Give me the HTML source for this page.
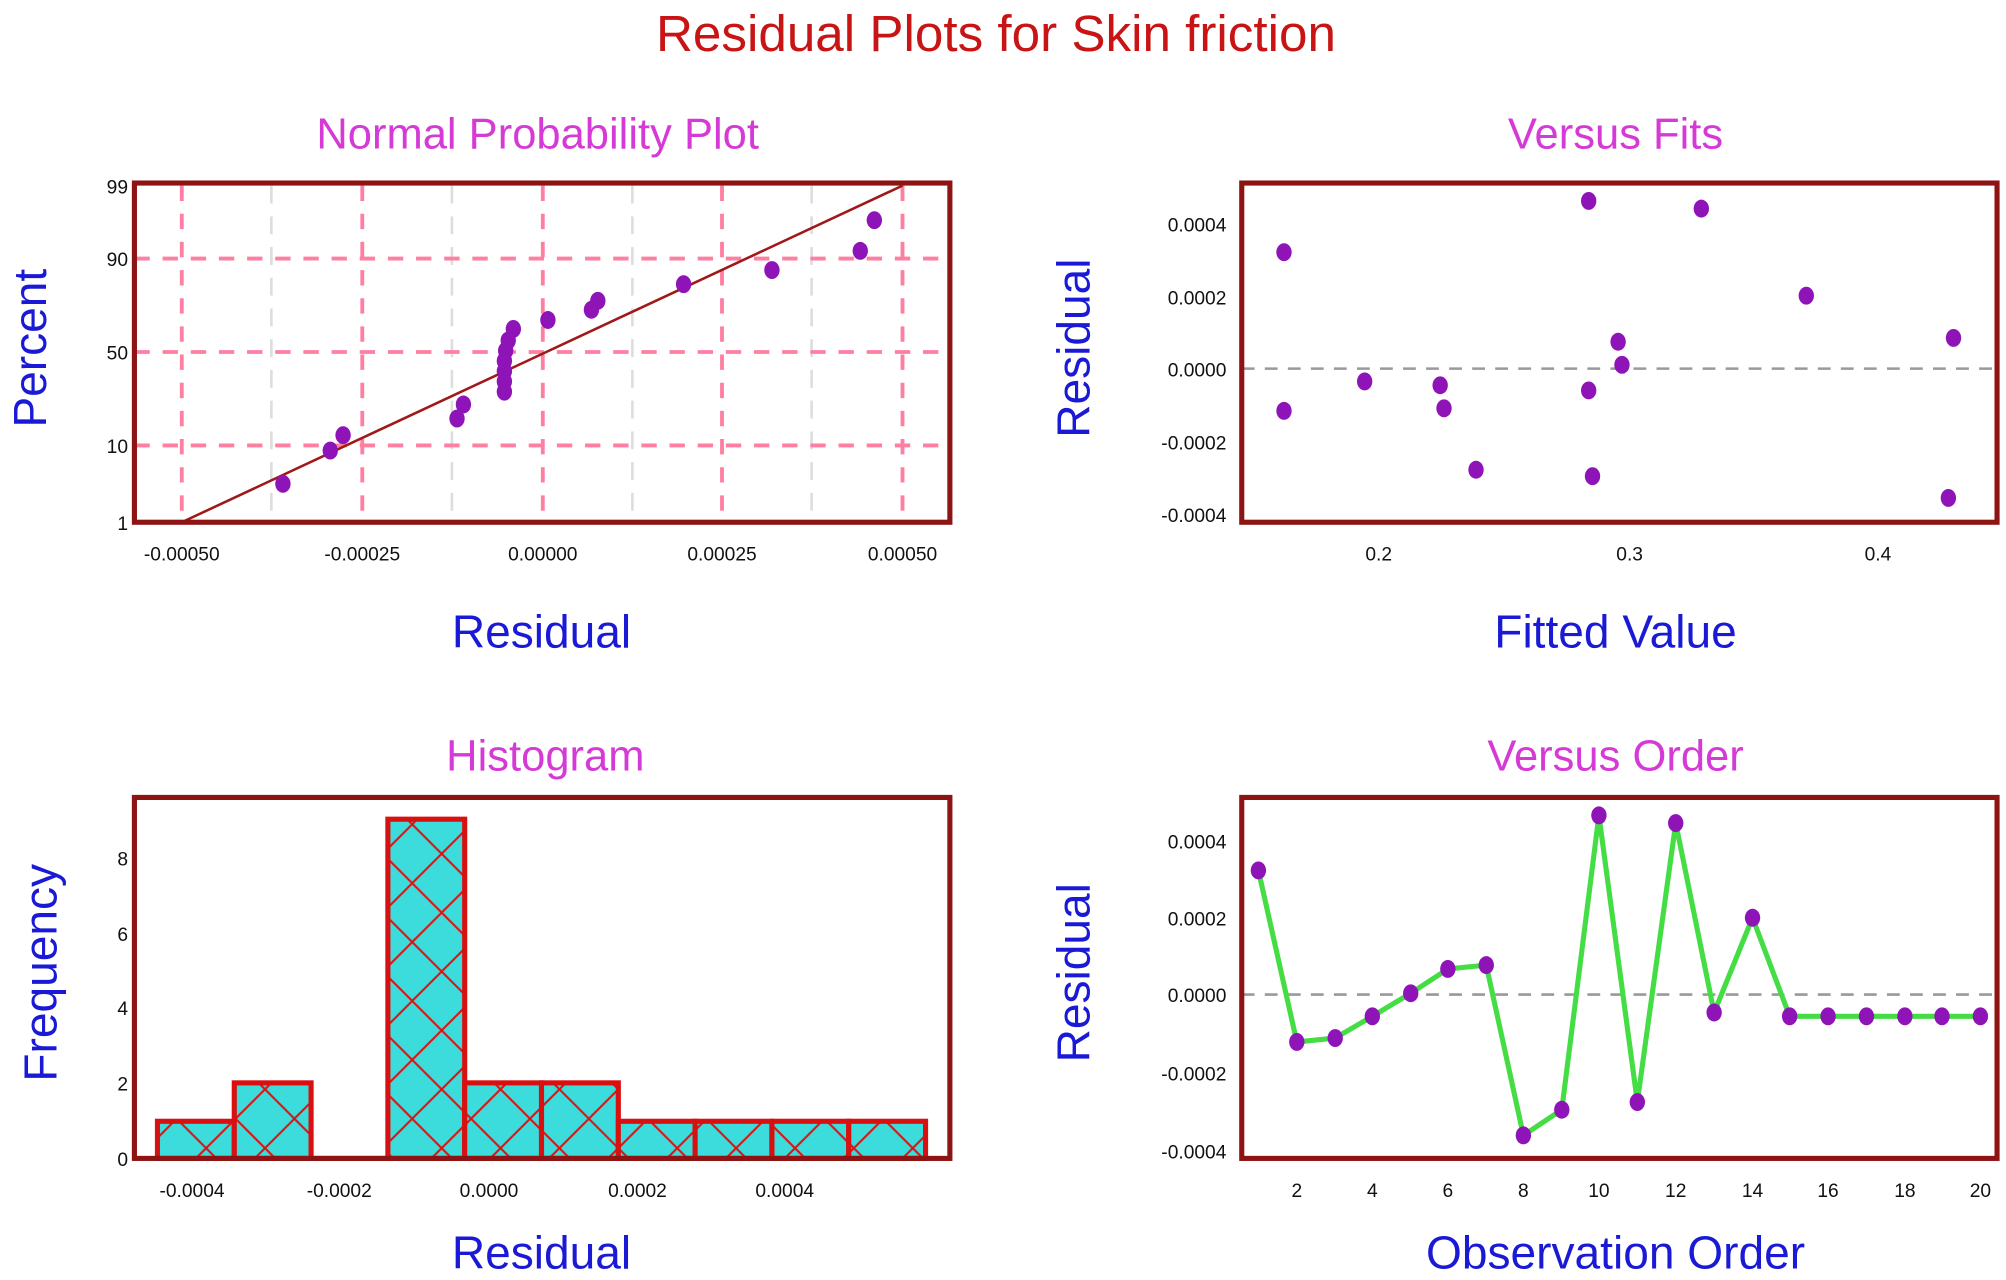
<!DOCTYPE html>
<html><head><meta charset="utf-8"><style>
html,body{margin:0;padding:0;background:#fff;}
svg{display:block;}
text{font-family:"Liberation Sans",sans-serif;}
.t{fill:#111;font-size:15px;font-family:"Liberation Sans Narrow","Liberation Sans",sans-serif;}
.ttl{fill:#d63ad6;font-size:34px;text-anchor:middle;}
.lab{fill:#1a1ad6;font-size:36px;text-anchor:middle;}
.fr{fill:none;stroke:#8e1414;stroke-width:4;}
.d{fill:#8e14b8;}
</style></head><body>
<svg width="2006" height="1280" viewBox="0 0 1567 1000" preserveAspectRatio="none" xmlns="http://www.w3.org/2000/svg">
<defs>
<pattern id="hx" width="46" height="46" patternUnits="userSpaceOnUse" x="0" y="0">
<rect width="46" height="46" fill="#3ddcdc"/>
<path d="M0,0L46,46M46,0L0,46" stroke="#e01010" stroke-width="1.6"/>
</pattern>
</defs>
<text x="778" y="40" text-anchor="middle" style="fill:#c81414;font-size:40px">Residual Plots for Skin friction</text>

<!-- Normal probability plot -->
<text class="ttl" x="420" y="116">Normal Probability Plot</text>
<g stroke="#dddddd" stroke-width="2" stroke-dasharray="14,10">
<line x1="212" y1="145" x2="212" y2="408"/><line x1="494" y1="145" x2="494" y2="408"/><line x1="634" y1="145" x2="634" y2="408"/><line x1="353" y1="145" x2="353" y2="408"/>
</g>
<g stroke="#ff7fa0" stroke-width="3" stroke-dasharray="12,10">
<line x1="142" y1="145" x2="142" y2="408"/><line x1="283" y1="145" x2="283" y2="408"/><line x1="424" y1="145" x2="424" y2="408"/><line x1="564" y1="145" x2="564" y2="408"/><line x1="705" y1="145" x2="705" y2="408"/>
<line x1="105" y1="202" x2="742" y2="202"/><line x1="105" y1="275" x2="742" y2="275"/><line x1="105" y1="348" x2="742" y2="348"/>
</g>
<line x1="142" y1="408" x2="705" y2="145" stroke="#a01818" stroke-width="2"/>
<rect class="fr" x="105" y="143" width="637" height="265"/>
<g class="d">
<ellipse cx="221" cy="378" rx="6" ry="7"/><ellipse cx="258" cy="352" rx="6" ry="7"/><ellipse cx="268" cy="340" rx="6" ry="7"/>
<ellipse cx="357" cy="327" rx="6" ry="7"/><ellipse cx="362" cy="316" rx="6" ry="7"/>
<ellipse cx="394" cy="306" rx="6" ry="7"/><ellipse cx="394" cy="298" rx="6" ry="7"/><ellipse cx="394" cy="290" rx="6" ry="7"/><ellipse cx="394" cy="282" rx="6" ry="7"/><ellipse cx="395" cy="274" rx="6" ry="7"/><ellipse cx="397" cy="266" rx="6" ry="7"/><ellipse cx="401" cy="257" rx="6" ry="7"/>
<ellipse cx="428" cy="250" rx="6" ry="7"/><ellipse cx="462" cy="242" rx="6" ry="7"/><ellipse cx="467" cy="235" rx="6" ry="7"/>
<ellipse cx="534" cy="222" rx="6" ry="7"/><ellipse cx="603" cy="211" rx="6" ry="7"/><ellipse cx="672" cy="196" rx="6" ry="7"/><ellipse cx="683" cy="172" rx="6" ry="7"/>
</g>
<g class="t" text-anchor="end">
<text x="100" y="151">99</text><text x="100" y="208">90</text><text x="100" y="281">50</text><text x="100" y="354">10</text><text x="100" y="414">1</text>
</g>
<g class="t" text-anchor="middle">
<text x="142" y="438">-0.00050</text><text x="283" y="438">-0.00025</text><text x="424" y="438">0.00000</text><text x="564" y="438">0.00025</text><text x="705" y="438">0.00050</text>
</g>
<text class="lab" x="0" y="0" transform="translate(36,272) rotate(-90)">Percent</text>
<text class="lab" x="423" y="506">Residual</text>

<!-- Versus Fits -->
<text class="ttl" x="1262" y="116">Versus Fits</text>
<line x1="970" y1="288" x2="1560" y2="288" stroke="#999" stroke-width="2" stroke-dasharray="10,8"/>
<rect class="fr" x="970" y="143" width="590" height="265"/>
<g class="d">
<ellipse cx="1003" cy="197" rx="6" ry="7"/><ellipse cx="1003" cy="321" rx="6" ry="7"/><ellipse cx="1066" cy="298" rx="6" ry="7"/><ellipse cx="1125" cy="301" rx="6" ry="7"/><ellipse cx="1128" cy="319" rx="6" ry="7"/><ellipse cx="1153" cy="367" rx="6" ry="7"/><ellipse cx="1241" cy="157" rx="6" ry="7"/><ellipse cx="1241" cy="305" rx="6" ry="7"/><ellipse cx="1244" cy="372" rx="6" ry="7"/><ellipse cx="1264" cy="267" rx="6" ry="7"/><ellipse cx="1267" cy="285" rx="6" ry="7"/><ellipse cx="1329" cy="163" rx="6" ry="7"/><ellipse cx="1411" cy="231" rx="6" ry="7"/><ellipse cx="1526" cy="264" rx="6" ry="7"/><ellipse cx="1522" cy="389" rx="6" ry="7"/>
</g>
<g class="t" text-anchor="end">
<text x="958" y="181">0.0004</text><text x="958" y="238">0.0002</text><text x="958" y="294">0.0000</text><text x="958" y="351">-0.0002</text><text x="958" y="408">-0.0004</text>
</g>
<g class="t" text-anchor="middle">
<text x="1077" y="438">0.2</text><text x="1273" y="438">0.3</text><text x="1467" y="438">0.4</text>
</g>
<text class="lab" x="0" y="0" transform="translate(851,272) rotate(-90)">Residual</text>
<text class="lab" x="1262" y="506">Fitted Value</text>

<!-- Histogram -->
<text class="ttl" x="426" y="602">Histogram</text>
<g stroke="#d81010" stroke-width="4" fill="url(#hx)">
<rect x="123" y="876" width="60" height="29"/>
<rect x="183" y="846" width="60" height="59"/>
<rect x="303" y="640" width="60" height="265"/>
<rect x="363" y="846" width="60" height="59"/>
<rect x="423" y="846" width="60" height="59"/>
<rect x="483" y="876" width="60" height="29"/>
<rect x="543" y="876" width="60" height="29"/>
<rect x="603" y="876" width="60" height="29"/>
<rect x="663" y="876" width="60" height="29"/>
</g>
<line x1="243" y1="905" x2="303" y2="905" stroke="#d81010" stroke-width="4"/>
<rect class="fr" x="105" y="623" width="637" height="282"/>
<g class="t" text-anchor="end">
<text x="100" y="911">0</text><text x="100" y="852">2</text><text x="100" y="793">4</text><text x="100" y="735">6</text><text x="100" y="676">8</text>
</g>
<g class="t" text-anchor="middle">
<text x="150" y="935">-0.0004</text><text x="265" y="935">-0.0002</text><text x="382" y="935">0.0000</text><text x="498" y="935">0.0002</text><text x="613" y="935">0.0004</text>
</g>
<text class="lab" x="0" y="0" transform="translate(44,760) rotate(-90)">Frequency</text>
<text class="lab" x="423" y="991">Residual</text>

<!-- Versus Order -->
<text class="ttl" x="1262" y="602">Versus Order</text>
<line x1="970" y1="777" x2="1560" y2="777" stroke="#999" stroke-width="2" stroke-dasharray="10,8"/>
<polyline fill="none" stroke="#44dd44" stroke-width="4" stroke-linejoin="round" points="983,680 1013,814 1043,811 1072,794 1102,776 1131,757 1161,754 1190,887 1220,867 1249,637 1279,861 1309,643 1339,791 1369,717 1398,794 1428,794 1458,794 1488,794 1517,794 1547,794"/>
<rect class="fr" x="970" y="623" width="590" height="282"/>
<g class="d">
<ellipse cx="983" cy="680" rx="6" ry="7"/><ellipse cx="1013" cy="814" rx="6" ry="7"/><ellipse cx="1043" cy="811" rx="6" ry="7"/><ellipse cx="1072" cy="794" rx="6" ry="7"/><ellipse cx="1102" cy="776" rx="6" ry="7"/><ellipse cx="1131" cy="757" rx="6" ry="7"/><ellipse cx="1161" cy="754" rx="6" ry="7"/><ellipse cx="1190" cy="887" rx="6" ry="7"/><ellipse cx="1220" cy="867" rx="6" ry="7"/><ellipse cx="1249" cy="637" rx="6" ry="7"/><ellipse cx="1279" cy="861" rx="6" ry="7"/><ellipse cx="1309" cy="643" rx="6" ry="7"/><ellipse cx="1339" cy="791" rx="6" ry="7"/><ellipse cx="1369" cy="717" rx="6" ry="7"/><ellipse cx="1398" cy="794" rx="6" ry="7"/><ellipse cx="1428" cy="794" rx="6" ry="7"/><ellipse cx="1458" cy="794" rx="6" ry="7"/><ellipse cx="1488" cy="794" rx="6" ry="7"/><ellipse cx="1517" cy="794" rx="6" ry="7"/><ellipse cx="1547" cy="794" rx="6" ry="7"/>
</g>
<g class="t" text-anchor="end">
<text x="958" y="663">0.0004</text><text x="958" y="723">0.0002</text><text x="958" y="783">0.0000</text><text x="958" y="844">-0.0002</text><text x="958" y="905">-0.0004</text>
</g>
<g class="t" text-anchor="middle">
<text x="1013" y="935">2</text><text x="1072" y="935">4</text><text x="1131" y="935">6</text><text x="1190" y="935">8</text><text x="1249" y="935">10</text><text x="1309" y="935">12</text><text x="1369" y="935">14</text><text x="1428" y="935">16</text><text x="1488" y="935">18</text><text x="1547" y="935">20</text>
</g>
<text class="lab" x="0" y="0" transform="translate(851,760) rotate(-90)">Residual</text>
<text class="lab" x="1262" y="991">Observation Order</text>
</svg>
</body></html>
